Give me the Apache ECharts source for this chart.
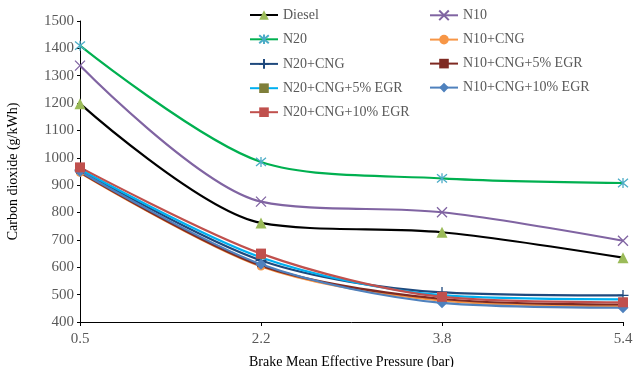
<!DOCTYPE html>
<html><head><meta charset="utf-8">
<script src="https://cdn.jsdelivr.net/npm/echarts@6/dist/echarts.min.js"></script>
<style>html,body{margin:0;padding:0;background:#fff}#c{width:635px;height:367px}</style>
</head><body><div id="c"></div>
<script>
const categories = ['0.5', '2.2', '3.8', '5.4'];
const diesel = [1198, 762, 728, 635];
const n10 = [1337, 840, 801, 697];
const n20 = [1410, 985, 925, 908];
const n10cng = [945, 603, 478, 458];
const n20cng = [955, 625, 508, 497];
const n10cng5 = [947, 606, 484, 464];
const n20cng5 = [958, 636, 498, 483];
const n10cng10 = [950, 611, 470, 452];
const n20cng10 = [965, 650, 492, 472];

const F = 'Liberation Serif';
const XSYM = 'path://M0,0L10,10M10,0L0,10';
const ASTER = 'path://M0,0L10,10M10,0L0,10M5,-1L5,11';
const PLUS = 'path://M5,0L5,10M0,5L10,5';

function mk(name, data, line, sym, symColor, size, stroke) {
  const it = stroke ? {color: 'none', borderColor: symColor, borderWidth: 1.3}
                    : {color: symColor, borderColor: symColor, borderWidth: 0};
  return {
    name, type: 'line', data, smooth: 0.3, symbol: sym, symbolSize: size,
    lineStyle: {color: line, width: 2.2}, itemStyle: it, z: 2
  };
}
const series = [
  mk('Diesel', diesel, '#000000', 'triangle', '#9BBB59', 11, false),
  mk('N10', n10, '#8064A2', XSYM, '#8064A2', 10, true),
  mk('N20', n20, '#00B050', ASTER, '#4BACC6', 10, true),
  mk('N10+CNG', n10cng, '#F79646', 'circle', '#F79646', 8, false),
  mk('N20+CNG', n20cng, '#1F497D', PLUS, '#1F497D', 11, true),
  mk('N10+CNG+5% EGR', n10cng5, '#7F2A22', 'rect', '#7F2A22', [8, 3], false),
  mk('N20+CNG+5% EGR', n20cng5, '#00B0F0', 'rect', '#7F7F3A', [8, 3], false),
  mk('N10+CNG+10% EGR', n10cng10, '#4F81BD', 'diamond', '#4F81BD', 11, false),
  mk('N20+CNG+10% EGR', n20cng10, '#C0504D', 'rect', '#C0504D', 10, false)
];
const legText = {fontFamily: F, fontSize: 14, color: '#595959'};
const chart = echarts.init(document.getElementById('c'));
chart.setOption({
  animation: false,
  grid: {left: 80, right: 12, top: 21, bottom: 45, containLabel: false, outerBoundsMode: 'none'},
  legend: [
    {data: ['Diesel', 'N20', 'N20+CNG', 'N20+CNG+5% EGR', 'N20+CNG+10% EGR'],
     orient: 'vertical', left: 249, top: 8, itemWidth: 28, itemHeight: 12, itemGap: 10,
     textStyle: legText, padding: 0},
    {data: ['N10', 'N10+CNG', 'N10+CNG+5% EGR', 'N10+CNG+10% EGR'],
     orient: 'vertical', left: 429, top: 8, itemWidth: 28, itemHeight: 12, itemGap: 10,
     textStyle: legText, padding: 0}
  ],
  xAxis: {
    type: 'category', data: categories, boundaryGap: false,
    axisLine: {lineStyle: {color: '#000', width: 1}},
    axisTick: {show: true, alignWithLabel: true, length: 4, lineStyle: {color: '#000'}},
    axisLabel: {fontFamily: F, fontSize: 15, color: '#595959', margin: 10},
    name: 'Brake Mean Effective Pressure (bar)', nameLocation: 'middle', nameGap: 33,
    nameTextStyle: {fontFamily: F, fontSize: 14, color: '#000'}
  },
  yAxis: {
    type: 'value', min: 400, max: 1500, interval: 100,
    axisLine: {show: true, lineStyle: {color: '#000', width: 1}},
    axisTick: {show: true, length: 3, lineStyle: {color: '#000'}},
    splitLine: {show: false},
    axisLabel: {fontFamily: F, fontSize: 15, color: '#595959', margin: 6,
      formatter: v => String(v)},
    name: 'Carbon dioxide (g/kWh)', nameLocation: 'middle', nameGap: 60,
    nameTextStyle: {fontFamily: F, fontSize: 14, color: '#000'}
  },
  series
});
</script></body></html>
